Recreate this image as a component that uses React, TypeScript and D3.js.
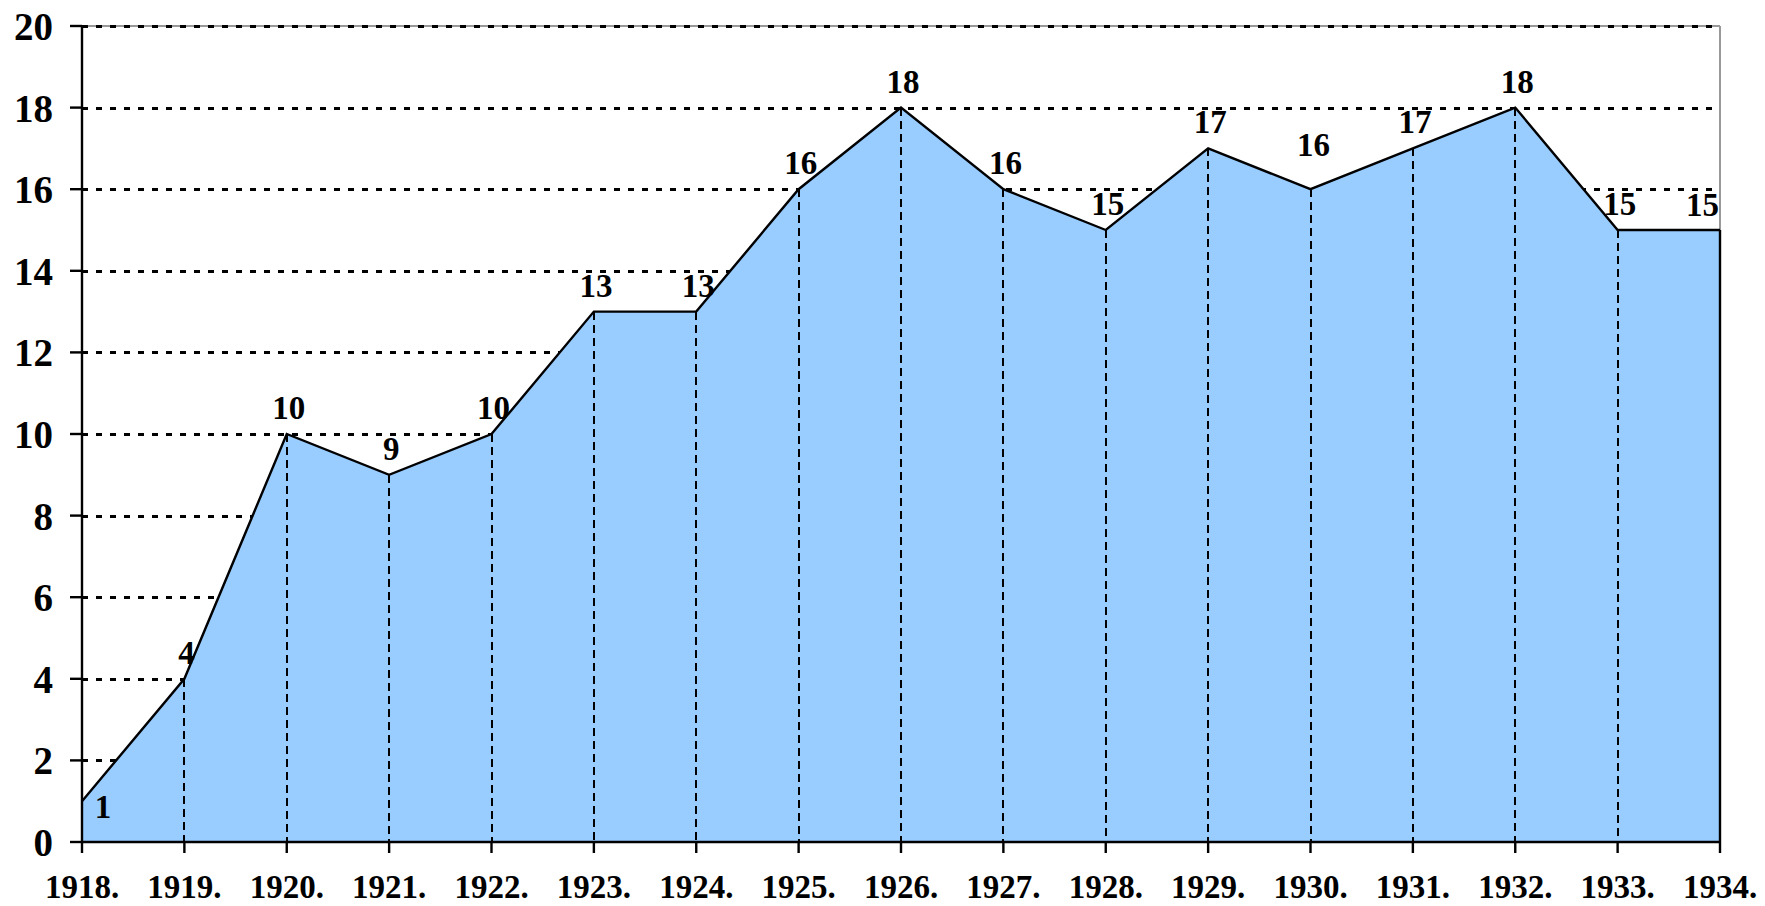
import React from 'react';
import * as d3 from 'd3';

// Data
const years = ['1918.', '1919.', '1920.', '1921.', '1922.', '1923.', '1924.', '1925.', '1926.',
  '1927.', '1928.', '1929.', '1930.', '1931.', '1932.', '1933.', '1934.'];
const values = [1, 4, 10, 9, 10, 13, 13, 16, 18, 16, 15, 17, 16, 17, 18, 15, 15];
const yTicks = [0, 2, 4, 6, 8, 10, 12, 14, 16, 18, 20];

const width = 1765;
const height = 906;
const margin = { top: 26, right: 45, bottom: 64, left: 82 };
const font = '"Liberation Serif", "Times New Roman", serif';

export default function App() {
  const x = d3
    .scalePoint<string>()
    .domain(years)
    .range([margin.left, width - margin.right]);

  const y = d3
    .scaleLinear()
    .domain([0, 20])
    .range([height - margin.bottom, margin.top]);

  const pts = years.map((yr, i) => ({ yr, v: values[i] }));

  const area = d3
    .area<{ yr: string; v: number }>()
    .x(d => x(d.yr) as number)
    .y0(y(0))
    .y1(d => y(d.v));

  const line = d3
    .line<{ yr: string; v: number }>()
    .x(d => x(d.yr) as number)
    .y(d => y(d.v));

  const x0 = margin.left;
  const x1 = width - margin.right;
  const yBase = y(0);
  const yTop = y(20);
  const last = pts.length - 1;

  // label placement (excel-ish): above the point, with a few exceptions
  const labelPos = (i: number) => {
    const px = x(pts[i].yr) as number;
    const py = y(pts[i].v);
    if (i === 0) return { lx: px + 21, ly: py + 17, anchor: 'middle' };
    if (i === last) return { lx: px - 1, ly: py - 14, anchor: 'end' };
    if (i === 12) return { lx: px + 3, ly: py - 33, anchor: 'middle' };
    return { lx: px + 2, ly: py - 15, anchor: 'middle' };
  };

  return (
    <svg
      width={width}
      height={height}
      style={{ position: 'absolute', left: 0, top: 0, background: '#fff' }}
    >
      {/* plot frame (gray) */}
      <line x1={x0} x2={x1} y1={yTop} y2={yTop} stroke="#999" strokeWidth={2} />
      <line x1={x1} x2={x1} y1={yTop} y2={yBase} stroke="#999" strokeWidth={2} />

      {/* horizontal gridlines */}
      {yTicks.filter(t => t > 0).map(t => (
        <line
          key={'g' + t}
          x1={x0}
          x2={x1 - 6}
          y1={Math.round(y(t)) + 0.5}
          y2={Math.round(y(t)) + 0.5}
          stroke="#000"
          strokeWidth={3}
          strokeDasharray="6 8"
          shapeRendering="crispEdges"
        />
      ))}

      {/* area */}
      <path d={area(pts) as string} fill="#99CCFF" />

      {/* drop lines */}
      {pts.slice(1, last).map(d => (
        <line
          key={'d' + d.yr}
          x1={Math.round(x(d.yr) as number)}
          x2={Math.round(x(d.yr) as number)}
          y1={y(d.v)}
          y2={yBase}
          stroke="#000"
          strokeWidth={2}
          strokeDasharray="8 5"
          shapeRendering="crispEdges"
        />
      ))}

      {/* series outline */}
      <path d={line(pts) as string} fill="none" stroke="#000" strokeWidth={2.4} strokeLinejoin="miter" />
      <line x1={x1} x2={x1} y1={y(values[last])} y2={yBase} stroke="#000" strokeWidth={2.4} />

      {/* axes */}
      <line x1={x0} x2={x0} y1={yTop} y2={yBase} stroke="#000" strokeWidth={2.4} />
      <line x1={x0} x2={x1} y1={yBase} y2={yBase} stroke="#000" strokeWidth={2.4} />
      {yTicks.map(t => (
        <g key={'yt' + t}>
          <line x1={x0 - 12} x2={x0} y1={y(t)} y2={y(t)} stroke="#000" strokeWidth={2.4} />
          <text
            x={53}
            y={y(t) + 14}
            textAnchor="end"
            fontFamily={font}
            fontWeight="bold"
            fontSize={39}
            fill="#000"
          >
            {t}
          </text>
        </g>
      ))}
      {years.map(yr => (
        <g key={'xt' + yr}>
          <line
            x1={x(yr) as number}
            x2={x(yr) as number}
            y1={yBase}
            y2={yBase + 11}
            stroke="#000"
            strokeWidth={2.4}
          />
          <text
            x={x(yr) as number}
            y={yBase + 56}
            textAnchor="middle"
            fontFamily={font}
            fontWeight="bold"
            fontSize={33}
            fill="#000"
          >
            {yr}
          </text>
        </g>
      ))}

      {/* data labels */}
      {pts.map((d, i) => {
        const p = labelPos(i);
        return (
          <text
            key={'l' + d.yr}
            x={p.lx}
            y={p.ly}
            textAnchor={p.anchor}
            fontFamily={font}
            fontWeight="bold"
            fontSize={33}
            fill="#000"
          >
            {d.v}
          </text>
        );
      })}
    </svg>
  );
}
